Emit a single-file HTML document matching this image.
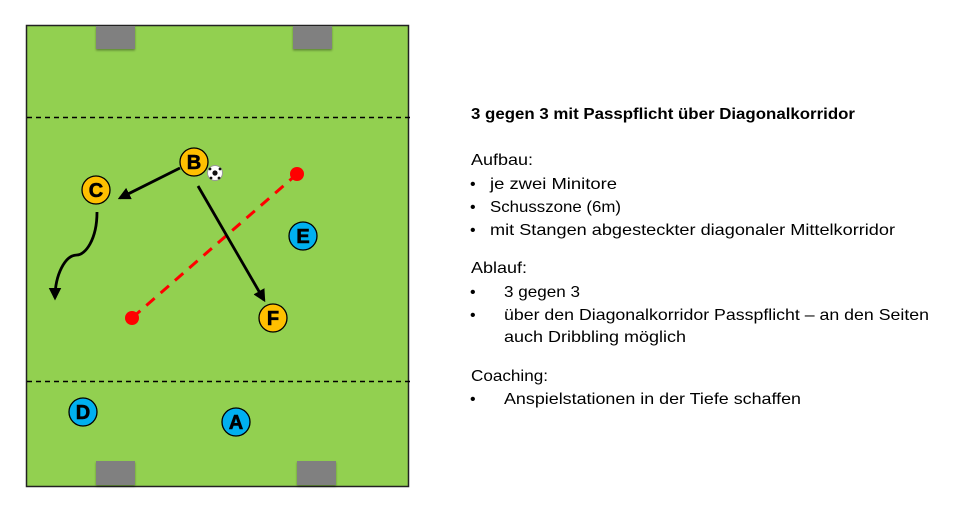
<!DOCTYPE html>
<html><head><meta charset="utf-8"><style>
html,body{margin:0;padding:0;background:#fff;width:960px;height:512px;overflow:hidden}
svg{display:block}
</style></head><body>
<svg width="960" height="512" viewBox="0 0 960 512" xmlns="http://www.w3.org/2000/svg">
<defs>
<marker id="ah" viewBox="0 0 10 10" refX="8" refY="5" markerWidth="4.5" markerHeight="4.5" orient="auto"><path d="M0,0 L10,5 L0,10 z" fill="#000"/></marker>
<filter id="sh" x="-20%" y="-20%" width="140%" height="160%"><feDropShadow dx="0" dy="1.5" stdDeviation="1" flood-opacity="0.35"/></filter>
</defs>
<rect x="26.5" y="25.5" width="382" height="461" fill="#92d050" stroke="#222" stroke-width="1.5"/>
<rect x="96" y="26" width="39" height="23" fill="#808080" filter="url(#sh)"/>
<rect x="293" y="26" width="39" height="23" fill="#808080" filter="url(#sh)"/>
<rect x="96" y="461" width="39" height="24" fill="#808080" filter="url(#sh)"/>
<rect x="297" y="461" width="39" height="24" fill="#808080" filter="url(#sh)"/>
<line x1="27" y1="117.5" x2="410" y2="117.5" stroke="#000" stroke-width="1.5" stroke-dasharray="5,4"/>
<line x1="27" y1="381.5" x2="410" y2="381.5" stroke="#000" stroke-width="1.5" stroke-dasharray="5,4"/>
<line x1="132" y1="318" x2="297" y2="174" stroke="#f00" stroke-width="3" stroke-dasharray="11,8"/>
<circle cx="297" cy="174" r="7" fill="#f00"/>
<circle cx="132" cy="318" r="7" fill="#f00"/>
<line x1="180" y1="168" x2="120" y2="198" stroke="#000" stroke-width="2.8" marker-end="url(#ah)"/>
<line x1="198" y1="186" x2="264" y2="300" stroke="#000" stroke-width="2.8" marker-end="url(#ah)"/>
<path d="M97,212 C97,240 85,255 77,255 C65,255 55,275 55,298" fill="none" stroke="#000" stroke-width="2.8" marker-end="url(#ah)"/>
<g stroke="#000" stroke-width="1.3">
<circle cx="194" cy="162" r="14" fill="#ffc000"/>
<circle cx="96" cy="190" r="14" fill="#ffc000"/>
<circle cx="273" cy="318" r="14" fill="#ffc000"/>
<circle cx="303" cy="236" r="14" fill="#00b0f0"/>
<circle cx="83" cy="412" r="14" fill="#00b0f0"/>
<circle cx="236" cy="422" r="14" fill="#00b0f0"/>
</g>
<g font-family="Liberation Sans, sans-serif" font-weight="bold" font-size="20" text-anchor="middle" fill="#000" stroke="#000" stroke-width="0.6">
<text x="194" y="169">B</text><text x="96" y="197">C</text><text x="273" y="325">F</text>
<text x="303" y="243">E</text><text x="83" y="419">D</text><text x="236" y="429">A</text>
</g>
<circle cx="215" cy="173" r="7.5" fill="#fff" stroke="#999" stroke-width="1"/>
<circle cx="215" cy="173" r="2.6" fill="#111"/>
<circle cx="210" cy="169" r="1.4" fill="#111"/><circle cx="220" cy="169" r="1.4" fill="#111"/>
<circle cx="211" cy="178" r="1.4" fill="#111"/><circle cx="219" cy="178" r="1.4" fill="#111"/>
<g font-family="Liberation Sans, sans-serif" font-size="16" fill="#000">
<text x="471" y="119" font-weight="bold" textLength="384" lengthAdjust="spacingAndGlyphs">3 gegen 3 mit Passpflicht über Diagonalkorridor</text>
<text x="471" y="165" textLength="62" lengthAdjust="spacingAndGlyphs">Aufbau:</text>
<text x="470" y="189">•</text><text x="490" y="189" textLength="127" lengthAdjust="spacingAndGlyphs">je zwei Minitore</text>
<text x="470" y="212">•</text><text x="490" y="212" textLength="131" lengthAdjust="spacingAndGlyphs">Schusszone (6m)</text>
<text x="470" y="235">•</text><text x="490" y="235" textLength="405" lengthAdjust="spacingAndGlyphs">mit Stangen abgesteckter diagonaler Mittelkorridor</text>
<text x="471" y="273" textLength="56" lengthAdjust="spacingAndGlyphs">Ablauf:</text>
<text x="470" y="297">•</text><text x="504" y="297" textLength="76" lengthAdjust="spacingAndGlyphs">3 gegen 3</text>
<text x="470" y="320">•</text><text x="504" y="320" textLength="425" lengthAdjust="spacingAndGlyphs">über den Diagonalkorridor Passpflicht – an den Seiten</text>
<text x="504" y="342" textLength="182" lengthAdjust="spacingAndGlyphs">auch Dribbling möglich</text>
<text x="471" y="381" textLength="77" lengthAdjust="spacingAndGlyphs">Coaching:</text>
<text x="470" y="404">•</text><text x="504" y="404" textLength="297" lengthAdjust="spacingAndGlyphs">Anspielstationen in der Tiefe schaffen</text>
</g>
</svg>
</body></html>
